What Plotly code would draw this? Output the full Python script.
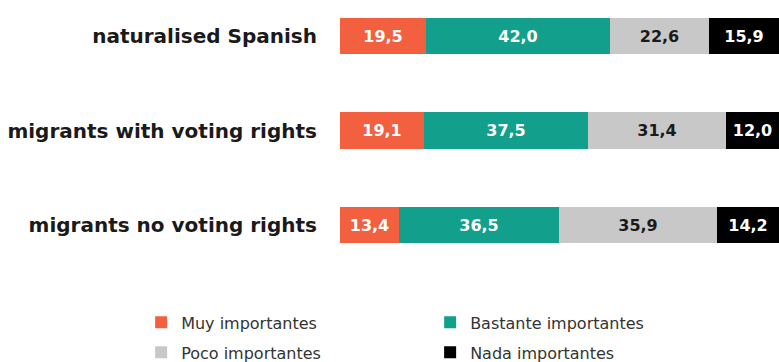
import plotly.graph_objects as go

# Survey groups (top to bottom) and the share answering each option (%)
groups = ["naturalised Spanish", "migrants with voting rights", "migrants no voting rights"]
series_names = ["Muy importantes", "Bastante importantes", "Poco importantes", "Nada importantes"]
muy = [19.5, 19.1, 13.4]
bastante = [42.0, 37.5, 36.5]
poco = [22.6, 31.4, 35.9]
nada = [15.9, 12.0, 14.2]

colors = ["#F2603F", "#12A08C", "#C8C8C8", "#000000"]
text_colors = ["#FFFFFF", "#FFFFFF", "#1A1A1A", "#FFFFFF"]
# two legend rows: first two options on top, last two below
legend_ids = ["legend", "legend", "legend2", "legend2"]


def fmt(v):
    return f"{v:.1f}".replace(".", ",")


fig = go.Figure()
for name, vals, col, tcol, lg in zip(series_names, [muy, bastante, poco, nada],
                                     colors, text_colors, legend_ids):
    fig.add_trace(go.Bar(
        name=name,
        y=groups,
        x=vals,
        orientation="h",
        marker=dict(color=col, line=dict(width=0)),
        width=0.39,
        text=[fmt(v) for v in vals],
        textposition="inside",
        insidetextanchor="middle",
        textangle=0,
        constraintext="none",
        textfont=dict(family="DejaVu Sans", size=16, color=tcol, weight="bold"),
        hoverinfo="skip",
        legend=lg,
    ))

legend_style = dict(
    orientation="h",
    x=-0.453,
    xanchor="left",
    yanchor="top",
    entrywidth=244,
    entrywidthmode="pixels",
    traceorder="normal",
    font=dict(family="DejaVu Sans", size=16, color="#333333"),
    bgcolor="rgba(0,0,0,0)",
)

fig.update_layout(
    barmode="stack",
    width=779,
    height=362,
    margin=dict(l=340, r=0, t=0, b=72, autoexpand=False),
    paper_bgcolor="white",
    plot_bgcolor="white",
    bargap=0,
    xaxis=dict(range=[0, 100], visible=False, fixedrange=True),
    yaxis=dict(
        type="category",
        range=[2.688, -0.381],
        showgrid=False,
        zeroline=False,
        showline=False,
        ticks="",
        ticklabelstandoff=22,
        tickfont=dict(family="DejaVu Sans", size=20, color="#1A1A1A", weight="bold"),
    ),
    showlegend=True,
    legend=dict(legend_style, y=-0.0533),
    legend2=dict(legend_style, y=-0.1568),
)

fig.write_html("out.html")
